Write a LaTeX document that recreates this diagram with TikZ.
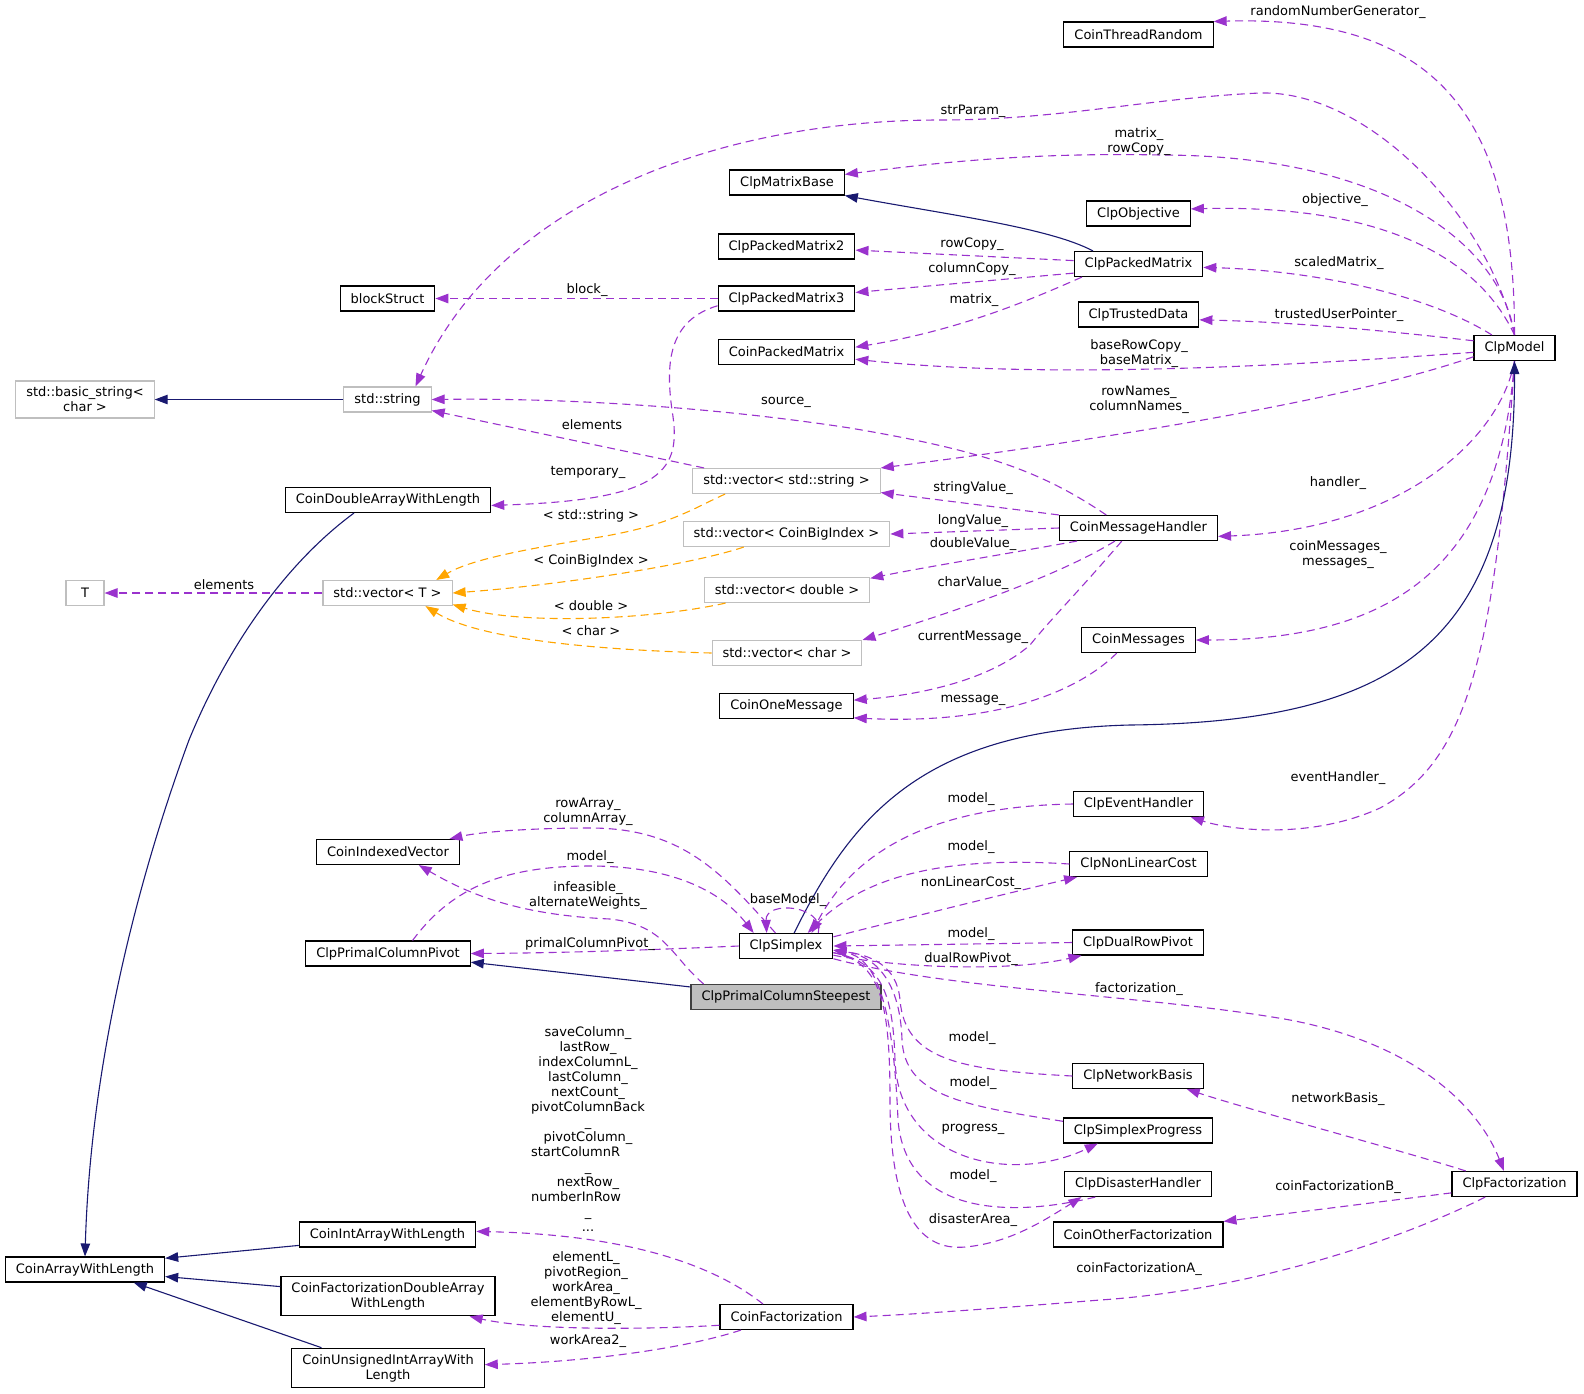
\documentclass[tikz,border=0pt]{standalone}
\usepackage{fontspec}
\setmainfont{DejaVu Sans}
\usepackage{calc}
\usetikzlibrary{arrows.meta}
\definecolor{edgepurple}{HTML}{9A32CD}
\definecolor{edgenavy}{HTML}{191970}
\definecolor{edgeorange}{HTML}{FFA500}
\definecolor{boxgray}{HTML}{BFBFBF}
\tikzset{
  cls/.style={draw=black, line width=1.1pt, minimum height=25pt, inner xsep=10.5pt, inner ysep=6pt, align=center},
  ext/.style={cls, draw=boxgray},
  focus/.style={cls, fill=boxgray, draw=black!75},
  lbl/.style={inner sep=0pt, align=center},
  member/.style={draw=edgepurple, line width=1.1pt, dash pattern=on 8pt off 5pt, -{Triangle[length=13pt,width=9.5pt]}},
  derived/.style={draw=edgenavy, line width=1.1pt, -{Triangle[length=13pt,width=9.5pt]}},
  tmplarg/.style={draw=edgeorange, line width=1.1pt, dash pattern=on 8pt off 5pt, -{Triangle[length=13pt,width=9.5pt]}}
}
\begin{document}
\begin{tikzpicture}[x=1pt, y=-1pt, font=\fontsize{13}{15}\selectfont]
  \useasboundingbox (0,0) rectangle (1584,1393);

  \node[cls] (ctr)   at (1138.5,34.5) {CoinThreadRandom};
  \node[cls] (mb)    at (787,182.5)   {ClpMatrixBase};
  \node[cls] (obj)   at (1138.5,213.5) {ClpObjective};
  \node[cls] (pm2)   at (786.5,246.5) {ClpPackedMatrix2};
  \node[cls] (pm)    at (1138.5,264)  {ClpPackedMatrix};
  \node[cls] (bs)    at (387.5,298.5) {blockStruct};
  \node[cls] (pm3)   at (786.5,298.5) {ClpPackedMatrix3};
  \node[cls] (td)    at (1138.5,314.5) {ClpTrustedData};
  \node[cls] (model) at (1514.5,348)  {ClpModel};
  \node[cls] (cpm)   at (786.5,352)   {CoinPackedMatrix};
  \node[ext] (bstr)  at (85,399.5)    {std::basic\_string<\\char >};
  \node[ext] (str)   at (387.5,399.5) {std::string};
  \node[ext] (vs)    at (786.5,481)   {std::vector< std::string >};
  \node[cls] (cda)   at (388,500)     {CoinDoubleArrayWithLength};
  \node[cls] (mh)    at (1138.5,528)  {CoinMessageHandler};
  \node[ext] (vcb)   at (786.5,534)   {std::vector< CoinBigIndex >};
  \node[ext] (vd)    at (787,590)     {std::vector< double >};
  \node[ext, minimum width=38pt] (t) at (85,593) {T};
  \node[ext] (vt)    at (387.5,593)   {std::vector< T >};
  \node[cls] (cms)   at (1138.5,640)  {CoinMessages};
  \node[ext] (vc)    at (787,653)     {std::vector< char >};
  \node[cls] (com)   at (786.5,706)   {CoinOneMessage};
  \node[cls] (eh)    at (1138.5,804)  {ClpEventHandler};
  \node[cls] (civ)   at (388,852)     {CoinIndexedVector};
  \node[cls] (nlc)   at (1138.5,864)  {ClpNonLinearCost};
  \node[cls] (drp)   at (1138,942.5)  {ClpDualRowPivot};
  \node[cls] (cs)    at (786,946)     {ClpSimplex};
  \node[cls] (pcp)   at (388,953.5)   {ClpPrimalColumnPivot};
  \node[focus] (pcs) at (786,997)     {ClpPrimalColumnSteepest};
  \node[cls] (nb)    at (1138,1076)   {ClpNetworkBasis};
  \node[cls] (sp)    at (1138,1130.5) {ClpSimplexProgress};
  \node[cls] (dh)    at (1138,1184)   {ClpDisasterHandler};
  \node[cls] (cf)    at (1514.5,1184) {ClpFactorization};
  \node[cls] (ciawl) at (387.5,1234.5) {CoinIntArrayWithLength};
  \node[cls] (cof)   at (1138,1234.5) {CoinOtherFactorization};
  \node[cls] (cawl)  at (85,1269.5)   {CoinArrayWithLength};
  \node[cls] (cfd)   at (388,1296)    {CoinFactorizationDoubleArray\\WithLength};
  \node[cls] (cfz)   at (786.5,1317)  {CoinFactorization};
  \node[cls] (cui)   at (388,1368)    {CoinUnsignedIntArrayWith\\Length};

  \draw[member] (model.north) .. controls (1515,120) and (1440,15) .. (ctr.north east);
  \draw[member] (model.north) .. controls (1490,220) and (1370,90) .. (1260,93) .. controls (1150,98) and (1060,120) .. (940,120) .. controls (720,120) and (500,200) .. (str.25);
  \draw[member] (model.north) .. controls (1500,240) and (1380,155) .. (1160,155) .. controls (1020,152) and (920,165) .. (mb.8);
  \draw[member] (model.north) .. controls (1470,240) and (1350,205) .. (obj.5);
  \draw[member] (model.150) .. controls (1420,290) and (1300,270) .. (pm.-3);
  \draw[member] (model.170) .. controls (1380,330) and (1290,322) .. (td.-5);
  \draw[member] (model.186) .. controls (1300,365) and (1050,380) .. (cpm.-6);
  \draw[member] (model.192) .. controls (1350,400) and (1100,440) .. (vs.north east);
  \draw[member] (model.south) .. controls (1500,440) and (1400,530) .. (mh.-6);
  \draw[member] (model.south) .. controls (1500,560) and (1400,640) .. (cms.east);
  \draw[member] (model.south) .. controls (1495,650) and (1470,760) .. (1380,808) .. controls (1310,840) and (1230,830) .. (eh.-14);

  \draw[member] (pm.177) -- (pm2.-3);
  \draw[member] (pm.188) -- (pm3.5);
  \draw[member] (pm.193) .. controls (1030,300) and (960,330) .. (cpm.4);
  \draw[member] (pm3.west) -- (bs.east);
  \draw[member] (pm3.186) .. controls (670,320) and (665,360) .. (672,410) .. controls (682,470) and (665,500) .. (cda.-3);

  \draw[member] (vs.171) .. controls (620,450) and (500,425) .. (str.-14);
  \draw[member] (mh.158) .. controls (1040,470) and (980,450) .. (850,428) .. controls (700,405) and (550,398) .. (str.east);
  \draw[member] (mh.north west) -- (vs.-7);
  \draw[member] (mh.west) -- (vcb.east);
  \draw[member] (mh.192) .. controls (1000,555) and (920,568) .. (vd.8);
  \draw[member] (mh.209) .. controls (1060,575) and (960,610) .. (vc.north east);
  \draw[member] (mh.218) .. controls (1080,590) and (1050,620) .. (1030,645) .. controls (990,680) and (920,695) .. (com.5);
  \draw[member] (cms.211) .. controls (1080,690) and (1000,725) .. (com.-10);

  \draw[tmplarg] (vs.192) .. controls (690,510) and (670,525) .. (600,537) .. controls (520,550) and (470,560) .. (vt.15);
  \draw[tmplarg] (vcb.197) .. controls (690,565) and (560,585) .. (vt.east);
  \draw[tmplarg] (vd.192) .. controls (650,620) and (520,625) .. (vt.-10);
  \draw[tmplarg] (vc.west) .. controls (600,650) and (480,640) .. (vt.-19);
  \draw[member] (vt.west) -- (t.east);

  \draw[derived] (str.west) -- (bstr.east);
  \draw[derived] (pm.164) .. controls (1050,228) and (950,215) .. (mb.south east);
  \draw[derived] (cda.201) .. controls (290,560) and (230,640) .. (189,740) .. controls (130,900) and (90,1080) .. (cawl.north);
  \draw[derived] (ciawl.187) -- (cawl.8);
  \draw[derived] (cfd.175) -- (cawl.-5);
  \draw[derived] (cui.163) -- (cawl.-15);
  \draw[derived] (cs.58) .. controls (850,820) and (920,730) .. (1130,725) .. controls (1400,722) and (1515,640) .. (model.south);
  \draw[derived] (pcs.174) -- (pcp.-6);

  \draw[member] (cs.129) .. controls (720,870) and (680,828) .. (590,828) .. controls (530,828) and (480,832) .. (civ.12);
  \draw[member] (pcs.171) .. controls (670,955) and (665,925) .. (610,919) .. controls (520,915) and (470,895) .. (civ.-23);
  \draw[member] (pcp.28) .. controls (450,890) and (500,866) .. (590,866) .. controls (670,866) and (720,890) .. (cs.158);
  \draw[member] (cs.west) .. controls (650,950) and (560,953) .. (pcp.east);
  \draw[member] (cs.22) .. controls (825,905) and (765,900) .. (cs.146);
  \draw[member] (eh.west) .. controls (950,806) and (860,840) .. (cs.27);
  \draw[member] (nlc.west) .. controls (960,857) and (870,870) .. (cs.31);
  \draw[member] (cs.11) .. controls (900,920) and (1000,895) .. (nlc.192);
  \draw[member] (drp.west) -- (cs.east);
  \draw[member] (cs.-11) .. controls (900,968) and (1010,972) .. (drp.193);
  \draw[member] (cs.-15) .. controls (950,990) and (1150,995) .. (1290,1020) .. controls (1420,1045) and (1480,1110) .. (cf.129);
  \draw[member] (nb.west) .. controls (960,1070) and (905,1060) .. (900,1000) .. controls (897,965) and (870,955) .. (cs.-5);
  \draw[member] (sp.173) .. controls (960,1105) and (905,1095) .. (902,1040) .. controls (900,975) and (870,955) .. (cs.-5);
  \draw[member] (cs.-8) .. controls (885,962) and (893,1000) .. (895,1060) .. controls (898,1160) and (1010,1185) .. (sp.198);
  \draw[member] (dh.197) .. controls (1000,1220) and (905,1210) .. (898,1120) .. controls (893,1000) and (875,958) .. (cs.-5);
  \draw[member] (cs.-8) .. controls (880,962) and (890,1000) .. (890,1100) .. controls (890,1230) and (930,1250) .. (965,1247) .. controls (1010,1243) and (1045,1220) .. (dh.193);

  \draw[member] (cf.165) .. controls (1400,1150) and (1250,1110) .. (nb.-15);
  \draw[member] (cf.188) -- (cof.north east);
  \draw[member] (cf.204) .. controls (1400,1240) and (1250,1290) .. (1100,1300) .. controls (1000,1308) and (920,1314) .. (cfz.east);
  \draw[member] (cfz.151) .. controls (720,1270) and (640,1235) .. (ciawl.2);
  \draw[member] (cfz.187) .. controls (640,1330) and (530,1330) .. (cfd.-14);
  \draw[member] (cfz.196) .. controls (680,1350) and (580,1362) .. (cui.2);

  \node[lbl] (l-rng)   at (1338,12)   {randomNumberGenerator\_};
  \node[lbl] (l-str)   at (973,111)   {strParam\_};
  \node[lbl] (l-mat)   at (1139,142)  {matrix\_\\rowCopy\_};
  \node[lbl] (l-obj)   at (1335,200)  {objective\_};
  \node[lbl] (l-rc)    at (972,244)   {rowCopy\_};
  \node[lbl] (l-sm)    at (1339,263)  {scaledMatrix\_};
  \node[lbl] (l-cc)    at (972,269)   {columnCopy\_};
  \node[lbl] (l-blk)   at (587,290)   {block\_};
  \node[lbl] (l-m2)    at (974,300)   {matrix\_};
  \node[lbl] (l-tup)   at (1339,315)  {trustedUserPointer\_};
  \node[lbl] (l-brc)   at (1139,354)  {baseRowCopy\_\\baseMatrix\_};
  \node[lbl] (l-rn)    at (1139,400)  {rowNames\_\\columnNames\_};
  \node[lbl] (l-src)   at (786,402)   {source\_};
  \node[lbl] (l-el)    at (592,425)   {elements};
  \node[lbl] (l-tmp)   at (588,472)   {temporary\_};
  \node[lbl] (l-hd)    at (1338,483)  {handler\_};
  \node[lbl] (l-sv)    at (973,488)   {stringValue\_};
  \node[lbl] (l-ss)    at (591,516)   {< std::string >};
  \node[lbl] (l-lv)    at (973,521)   {longValue\_};
  \node[lbl] (l-dv)    at (973,544)   {doubleValue\_};
  \node[lbl] (l-cm)    at (1338,555)  {coinMessages\_\\messages\_};
  \node[lbl] (l-cbi)   at (591,561)   {< CoinBigIndex >};
  \node[lbl] (l-chv)   at (973,583)   {charValue\_};
  \node[lbl] (l-tel)   at (224,585)   {elements};
  \node[lbl] (l-dbl)   at (591,606)   {< double >};
  \node[lbl] (l-chr)   at (591,631)   {< char >};
  \node[lbl] (l-cur)   at (973,637)   {currentMessage\_};
  \node[lbl] (l-msg)   at (973,700)   {message\_};
  \node[lbl] (l-evh)   at (1338,778)  {eventHandler\_};
  \node[lbl] (l-m-eh)  at (971,799)   {model\_};
  \node[lbl] (l-ra)    at (588,812)   {rowArray\_\\columnArray\_};
  \node[lbl] (l-m-nlc) at (971,847)   {model\_};
  \node[lbl] (l-m-pcp) at (590,857)   {model\_};
  \node[lbl] (l-nlc)   at (971,883)   {nonLinearCost\_};
  \node[lbl] (l-inf)   at (588,896)   {infeasible\_\\alternateWeights\_};
  \node[lbl] (l-bm)    at (788,900)   {baseModel\_};
  \node[lbl] (l-m-drp) at (971,934)   {model\_};
  \node[lbl] (l-pcp)   at (590,944)   {primalColumnPivot\_};
  \node[lbl] (l-drp)   at (971,959)   {dualRowPivot\_};
  \node[lbl] (l-fac)   at (1139,989)  {factorization\_};
  \node[lbl] (l-m-nb)  at (972,1038)  {model\_};
  \node[lbl] (l-m-sp)  at (973,1083)  {model\_};
  \node[lbl] (l-nb)    at (1338,1099) {networkBasis\_};
  \node[lbl] (l-prg)   at (973,1129)  {progress\_};
  \node[lbl] (l-long)  at (588,1129)  {saveColumn\_\\lastRow\_\\indexColumnL\_\\lastColumn\_\\nextCount\_\\pivotColumnBack\\\_\\pivotColumn\_\\\makebox[\widthof{pivotColumnBack}][l]{startColumnR}\\\_\\nextRow\_\\\makebox[\widthof{pivotColumnBack}][l]{numberInRow}\\\_\\...};
  \node[lbl] (l-m-dh)  at (973,1176)  {model\_};
  \node[lbl] (l-cfb)   at (1338,1187) {coinFactorizationB\_};
  \node[lbl] (l-da)    at (973,1220)  {disasterArea\_};
  \node[lbl] (l-cfa)   at (1139,1269) {coinFactorizationA\_};
  \node[lbl] (l-elu)   at (586,1288)  {elementL\_\\pivotRegion\_\\workArea\_\\elementByRowL\_\\elementU\_};
  \node[lbl] (l-wa2)   at (588,1341)  {workArea2\_};
\end{tikzpicture}
\end{document}
